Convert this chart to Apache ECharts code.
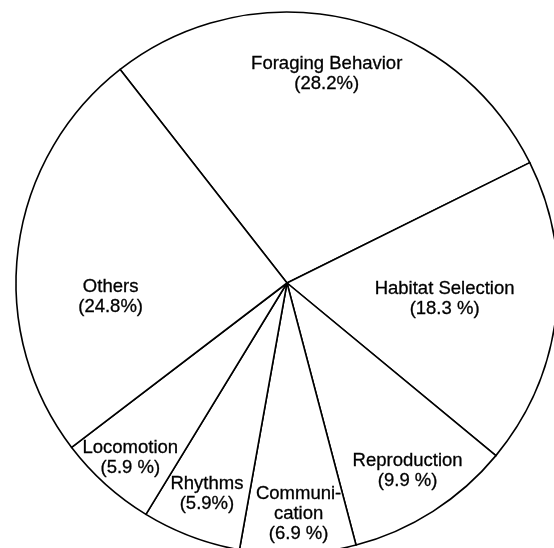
<!DOCTYPE html>
<html>
<head>
<meta charset="utf-8">
<script src="https://cdn.jsdelivr.net/npm/echarts@6/dist/echarts.min.js"></script>
<style>
  html, body { margin: 0; padding: 0; background: #fff; }
  #chart { width: 554px; height: 548px; }
</style>
</head>
<body>
<div id="chart"></div>
<script>
// ---- data ----
const categories = ['Foraging Behavior', 'Habitat Selection', 'Reproduction', 'Communi-\ncation', 'Rhythms', 'Locomotion', 'Others'];
const values = [28.2, 18.3, 9.9, 6.9, 5.9, 5.9, 24.8];
const percentLabels = ['(28.2%)', '(18.3 %)', '(9.9 %)', '(6.9 %)', '(5.9%)', '(5.9 %)', '(24.8%)'];

// ---- label nudges (pixels, relative to default inside position) ----
const labelNudges = [[9, -74], [20, 0], [46, 71], [6, 93], [-31, 81], [-64, 72], [-39, 32]];

const chart = echarts.init(document.getElementById('chart'), null, { renderer: 'canvas' });

const pieData = categories.map((name, i) => ({ name: name, value: values[i] }));

chart.setOption({
  animation: false,
  backgroundColor: '#ffffff',
  series: [{
    type: 'pie',
    center: [287, 283],
    radius: [0, 271],
    startAngle: 128,
    clockwise: true,
    avoidLabelOverlap: false,
    silent: true,
    data: pieData,
    itemStyle: {
      color: '#ffffff',
      borderColor: '#000000',
      borderWidth: 1.6
    },
    label: {
      show: true,
      position: 'inside',
      color: '#000000',
      fontFamily: 'Liberation Sans, Arial, sans-serif',
      fontSize: 18.5,
      lineHeight: 20,
      align: 'center',
      verticalAlign: 'middle',
      textBorderColor: '#000000',
      textBorderWidth: 0.3,
      formatter: function (p) { return p.name + '\n' + percentLabels[p.dataIndex]; }
    },
    labelLine: { show: false },
    labelLayout: function (params) {
      const n = labelNudges[params.dataIndex] || [0, 0];
      return { dx: n[0], dy: n[1] };
    },
    emphasis: { disabled: true }
  }]
});
</script>
</body>
</html>
